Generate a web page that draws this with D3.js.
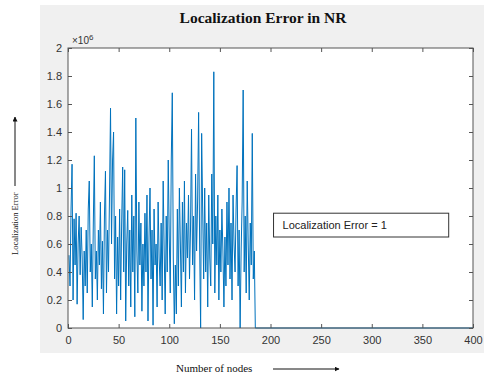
<!DOCTYPE html>
<html>
<head>
<meta charset="utf-8">
<script src="https://cdn.jsdelivr.net/npm/d3@7"></script>
<style>
  body { margin: 0; background: #fff; }
  svg { display: block; }
</style>
</head>
<body>
<svg width="484" height="379"></svg>
<script>
// localization error per node, in units of 1e6
var errors = [
  0.52, 0.30, 0.85, 1.17, 0.20, 0.78, 0.45, 0.82, 0.17, 0.60,
  0.80, 0.38, 0.72, 0.50, 0.06, 0.55, 0.30, 0.70, 0.25, 0.85,
  1.05, 0.40, 0.60, 0.15, 0.75, 1.23, 0.35, 0.55, 0.20, 0.70,
  0.45, 0.90, 0.28, 0.62, 0.10, 0.80, 1.12, 0.25, 0.70, 0.40,
  0.95, 1.57, 0.60, 1.20, 1.40, 0.35, 0.80, 0.10, 0.65, 0.30,
  0.85, 0.20, 0.75, 1.15, 0.40, 1.13, 0.05, 0.60, 0.84, 0.30,
  0.70, 0.15, 0.95, 0.40, 0.80, 0.08, 1.50, 0.55, 0.25, 0.90,
  0.45, 0.75, 0.12, 0.60, 0.30, 0.82, 0.40, 0.95, 0.05, 0.65,
  1.00, 0.35, 0.70, 0.02, 0.85, 0.45, 0.60, 0.15, 0.90, 0.50,
  0.30, 0.75, 0.20, 1.05, 0.55, 0.10, 0.80, 0.40, 1.20, 0.65,
  0.25, 1.20, 1.68, 0.50, 0.03, 0.45, 0.10, 0.85, 0.30, 1.00,
  0.60, 0.15, 0.90, 0.40, 1.05, 0.25, 0.75, 0.50, 0.95, 0.35,
  0.70, 1.42, 0.45, 0.80, 0.20, 1.10, 0.55, 0.90, 1.54, 0.60,
  0.00, 1.39, 0.85, 0.35, 1.00, 0.40, 0.75, 0.15, 0.95, 0.50,
  0.30, 1.10, 0.60, 1.83, 0.25, 0.80, 0.45, 0.95, 0.20, 0.70,
  0.40, 0.85, 0.55, 0.15, 0.65, 0.30, 0.90, 0.45, 1.00, 0.35,
  0.75, 0.20, 0.95, 0.60, 0.40, 0.85, 1.16, 0.30, 0.70, 0.00,
  0.55, 0.90, 1.70, 0.40, 0.80, 0.25, 1.05, 0.60, 0.20, 0.75,
  0.45, 1.39, 0.35, 0.55, 0.00
];
// after the last node the error stays at zero up to the end of the axis
var tailNodes = [400];
var tailValues = [0];

var xTicks = [0, 50, 100, 150, 200, 250, 300, 350, 400];
var yTicks = [0, 0.2, 0.4, 0.6, 0.8, 1, 1.2, 1.4, 1.6, 1.8, 2];

var svg = d3.select("svg"),
    margin = {top: 48, right: 11, bottom: 51, left: 68},
    w = +svg.attr("width") - margin.left - margin.right,
    h = +svg.attr("height") - margin.top - margin.bottom;

// grey figure background
svg.append("rect")
  .attr("x", 40).attr("y", 5)
  .attr("width", 444).attr("height", 348)
  .attr("fill", "#f0f0f0");

var g = svg.append("g").attr("transform", "translate(" + margin.left + "," + margin.top + ")");

g.append("rect")
  .attr("width", w).attr("height", h)
  .attr("fill", "#fff");

var x = d3.scaleLinear().domain([0, 400]).range([0, w]);
var y = d3.scaleLinear().domain([0, 2]).range([h, 0]);

var lineData = errors.map(function(d, i) { return {x: i + 1, y: d}; })
  .concat(tailNodes.map(function(d, i) { return {x: d, y: tailValues[i]}; }));

var line = d3.line()
  .x(function(d) { return x(d.x); })
  .y(function(d) { return y(d.y); });

g.append("path")
  .attr("d", line(lineData))
  .attr("fill", "none")
  .attr("stroke", "#0072BD")
  .attr("stroke-width", 1)
  .attr("stroke-linejoin", "round");

var axisColor = "#555";
var fmt = function(d) { return d3.format("")(d); };

function styleAxis(sel) {
  sel.select(".domain").remove();
  sel.selectAll(".tick line").attr("stroke", axisColor);
  sel.selectAll(".tick text")
    .attr("fill", "#333")
    .style("font-family", "Arial, 'Liberation Sans', sans-serif")
    .style("font-size", "11px");
}

g.append("g").attr("transform", "translate(0," + h + ")")
  .call(d3.axisBottom(x).tickValues(xTicks).tickSize(-4).tickPadding(8).tickFormat(fmt))
  .call(styleAxis);
g.append("g")
  .call(d3.axisTop(x).tickValues(xTicks).tickSize(-4).tickFormat(""))
  .call(styleAxis);
g.append("g")
  .call(d3.axisLeft(y).tickValues(yTicks).tickSize(-4).tickPadding(6).tickFormat(fmt))
  .call(styleAxis);
g.append("g").attr("transform", "translate(" + w + ",0)")
  .call(d3.axisRight(y).tickValues(yTicks).tickSize(-4).tickFormat(""))
  .call(styleAxis);

g.append("rect")
  .attr("width", w).attr("height", h)
  .attr("fill", "none")
  .attr("stroke", axisColor)
  .attr("stroke-width", 1);

// exponent label
var expo = g.append("text")
  .attr("x", 4).attr("y", -4)
  .attr("fill", "#333")
  .style("font-family", "Arial, 'Liberation Sans', sans-serif")
  .style("font-size", "10px");
expo.append("tspan").text("\u00d710");
expo.append("tspan").attr("dy", -4).style("font-size", "8px").text("6");

// annotation box
var box = {x0: 203, x1: 376, y0: 0.82, y1: 0.65};
g.append("rect")
  .attr("x", x(box.x0)).attr("y", y(box.y0))
  .attr("width", x(box.x1) - x(box.x0))
  .attr("height", y(box.y1) - y(box.y0))
  .attr("fill", "#fff")
  .attr("stroke", "#333")
  .attr("stroke-width", 1);
g.append("text")
  .attr("x", x(box.x0) + 9)
  .attr("y", (y(box.y0) + y(box.y1)) / 2 + 4)
  .attr("fill", "#222")
  .style("font-family", "Arial, 'Liberation Sans', sans-serif")
  .style("font-size", "11px")
  .text("Localization Error = 1");

// title
svg.append("text")
  .attr("x", 263).attr("y", 23)
  .attr("text-anchor", "middle")
  .attr("fill", "#111")
  .style("font-family", "'Liberation Serif', 'Times New Roman', serif")
  .style("font-weight", "bold")
  .style("font-size", "15.5px")
  .text("Localization Error in NR");

// arrow marker
svg.append("defs").append("marker")
  .attr("id", "arr")
  .attr("viewBox", "0 0 10 10")
  .attr("refX", 9).attr("refY", 5)
  .attr("markerWidth", 5).attr("markerHeight", 5)
  .attr("orient", "auto")
  .append("path").attr("d", "M0,0L10,5L0,10Z").attr("fill", "#111");

var labelFont = "'Liberation Serif', 'Times New Roman', serif";

// x axis label
svg.append("text")
  .attr("x", 176).attr("y", 372)
  .attr("fill", "#111")
  .style("font-family", labelFont)
  .style("font-size", "11px")
  .text("Number of nodes");
svg.append("line")
  .attr("x1", 273).attr("y1", 369).attr("x2", 339).attr("y2", 369)
  .attr("stroke", "#111").attr("stroke-width", 1)
  .attr("marker-end", "url(#arr)");

// y axis label
svg.append("text")
  .attr("transform", "translate(18,255) rotate(-90)")
  .attr("fill", "#111")
  .style("font-family", labelFont)
  .style("font-size", "8.5px")
  .text("Localization Error");
svg.append("line")
  .attr("x1", 15).attr("y1", 186).attr("x2", 15).attr("y2", 117)
  .attr("stroke", "#111").attr("stroke-width", 1)
  .attr("marker-end", "url(#arr)");
</script>
</body>
</html>
